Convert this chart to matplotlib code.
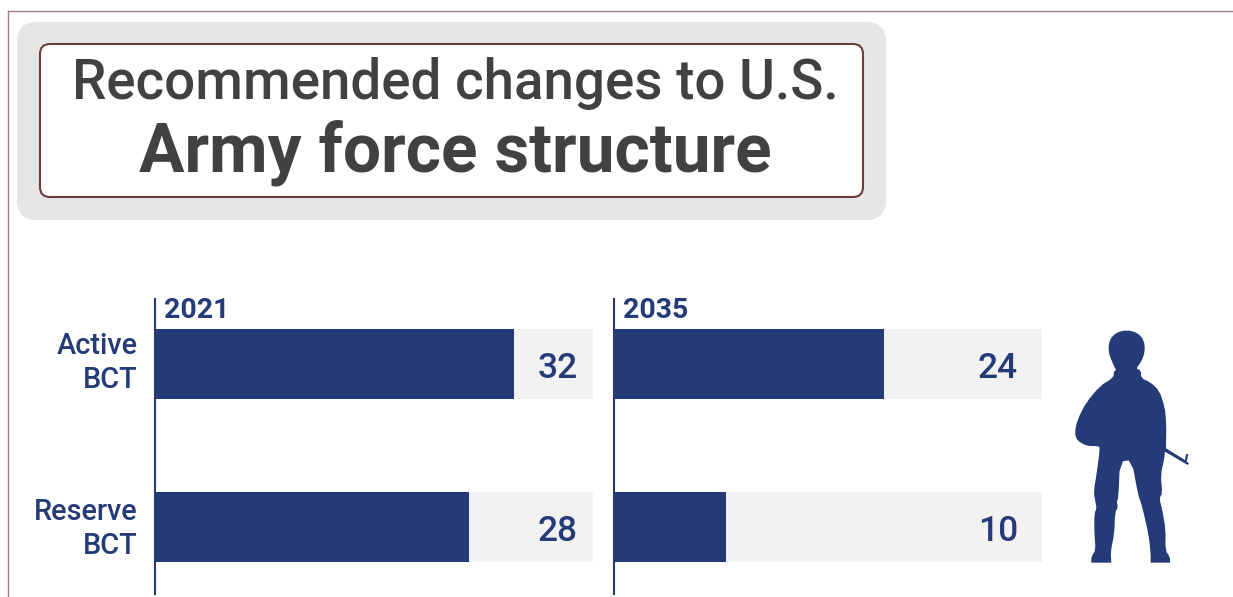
import matplotlib
matplotlib.use("Agg")
import matplotlib.pyplot as plt
from matplotlib.patches import FancyBboxPatch, PathPatch
from matplotlib.path import Path

plt.rcParams['font.family'] = ['Roboto', 'DejaVu Sans']

W, H = 1233, 597

# data
categories = ["Active\nBCT", "Reserve\nBCT"]
values_2021 = [32, 28]
values_2035 = [24, 10]
track_2021 = 39.1
track_2035 = 38.1
title_top = "Recommended changes to U.S."
title_bottom = "Army force structure"

navy = "#243b77"
track = "#f2f2f2"
dark = "#404241"
maroon = "#6e3b3b"

fig = plt.figure(figsize=(W/100, H/100), dpi=100)

# overlay in pixel coords, y going down
bg = fig.add_axes([0, 0, 1, 1])
bg.set_xlim(0, W)
bg.set_ylim(H, 0)
bg.axis("off")

bg.plot([8, W], [11, 11], color="#a87f7f", lw=1)
bg.plot([8, 8], [11, H], color="#a87f7f", lw=1)


def round_box(x0, y0, x1, y1, r, **kw):
    p = FancyBboxPatch((x0+r, y0+r), x1-x0-2*r, y1-y0-2*r,
                       boxstyle="round,pad=%d,rounding_size=%d" % (r, r), **kw)
    bg.add_patch(p)


round_box(17, 22, 886, 220, 20, fc="#e5e6e6", ec="none")
round_box(40, 44, 863, 197, 10, fc="white", ec=maroon, lw=1.5)

bg.text(455, 83, title_top, ha="center", va="center", fontsize=39.4, color=dark,
        fontweight="medium")
bg.text(455, 153, title_bottom, ha="center", va="center", fontsize=48.7, color=dark,
        fontweight="bold")

# soldier silhouette (zoom crop coords)
# doubled points keep the boot corners square through soften()
body_a = [(198, 150), (186, 125), (175, 95), (178, 60), (198, 38), (230, 30), (262, 38),
          (282, 60), (285, 95), (274, 125), (258, 146), (272, 150), (274, 175), (300, 186),
          (328, 212), (344, 260), (349, 310), (348, 385)]
rifle = [(405, 420), (408, 402), (415, 403), (410, 425), (417, 430), (413, 435)]
body_b = [(345, 395), (342, 420), (332, 465), (337, 520), (328, 535), (337, 570),
          (347, 630), (346, 690), (360, 712), (360, 728), (360, 728), (302, 728), (302, 728),
          (302, 700), (296, 645), (280, 575), (272, 545), (265, 528), (245, 420), (210, 425),
          (205, 535), (200, 545), (204, 560), (195, 580), (193, 640), (182, 695),
          (184, 728), (184, 728), (124, 728), (124, 728), (124, 710), (137, 690),
          (133, 640), (133, 580), (140, 565), (136, 545),
          (131, 515), (140, 460), (150, 385), (145, 378), (110, 378), (82, 362), (74, 340),
          (82, 300), (108, 248), (150, 198), (190, 173), (192, 155)]
hole = [(120, 332), (150, 330), (158, 305), (135, 315)]


def soften(pts):
    # one round of corner cutting, end points kept
    out = [pts[0]]
    for a, b in zip(pts[:-1], pts[1:]):
        out.append((0.75*a[0] + 0.25*b[0], 0.75*a[1] + 0.25*b[1]))
        out.append((0.25*a[0] + 0.75*b[0], 0.25*a[1] + 0.75*b[1]))
    out.append(pts[-1])
    return out


def to_px(pts):
    return [(1050 + x/3, 320 + y/3) for x, y in pts]


body = soften(body_a) + rifle + soften(body_b)
verts = to_px(body) + to_px(body[:1]) + to_px(hole[::-1]) + to_px(hole[-1:])
codes = ([Path.MOVETO] + [Path.LINETO]*(len(body)-1) + [Path.CLOSEPOLY]
         + [Path.MOVETO] + [Path.LINETO]*(len(hole)-1) + [Path.CLOSEPOLY])
bg.add_patch(PathPatch(Path(verts, codes), fc=navy, ec="none"))


def panel(left, right, year, values, track_max, value_gap, show_labels):
    top, bottom = 299, 594
    ax = fig.add_axes([left/W, 1-bottom/H, (right-left)/W, (bottom-top)/H])
    ax.patch.set_alpha(0)
    pos = [0, 1]
    ax.barh(pos, [track_max]*2, height=0.43, color=track)
    ax.barh(pos, values, height=0.43, color=navy)
    ax.set_xlim(0, track_max)
    ax.set_ylim(1.411, -0.399)
    for s in ["top", "right", "bottom"]:
        ax.spines[s].set_visible(False)
    ax.spines["left"].set_color(navy)
    ax.spines["left"].set_linewidth(1.5)
    ax.set_xticks([])
    ax.set_yticks([])
    px = track_max / (right - left)
    if show_labels:
        # the two labels do not sit quite the same against their bars
        for p, lab, shift in zip(pos, categories, [-0.004, 0.012]):
            ax.text(-17.5*px, p + shift, lab, fontsize=20.8, color=navy, fontweight="medium",
                    ha="right", va="center", linespacing=1.27, multialignment="right")
    for p, v in zip(pos, values):
        ax.text(track_max - value_gap*px, p + 0.028, str(v), ha="right", va="center",
                fontsize=25.5, color=navy, fontweight="medium")
    ax.text(9/(right-left), 1.007, year, transform=ax.transAxes, ha="left", va="top",
            fontsize=20.5, color=navy, fontweight="bold")
    return ax


panel(155.4, 593, "2021", values_2021, track_2021, 15, True)
panel(614, 1042, "2035", values_2035, track_2035, 24, False)

fig.savefig("out.png", dpi=100)
